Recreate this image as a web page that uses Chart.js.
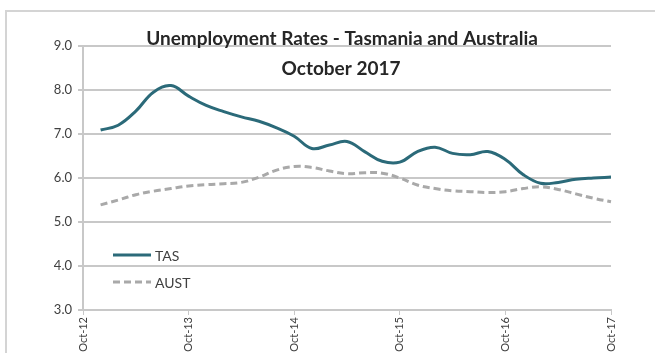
<!DOCTYPE html>
<html>
<head>
<meta charset="utf-8">
<script src="https://cdn.jsdelivr.net/npm/chart.js@4.4.1/dist/chart.umd.min.js"></script>
<style>
  html, body { margin: 0; padding: 0; background: #fff; overflow: hidden; }
  #frame { position: absolute; left: 5px; top: 10px; width: 660px; height: 360px;
           border-top: 2px solid #d4d4d4; border-left: 2px solid #d4d4d4; }
  #wrap { position: absolute; left: 0; top: 0; width: 655px; height: 380px; }
</style>
</head>
<body>
<div id="frame"></div>
<div id="wrap"><canvas id="unempChart"></canvas></div>
<script>
// bi-monthly points, Oct-12 .. Oct-17
var months = ['Oct-12', 'Dec-12', 'Feb-13', 'Apr-13', 'Jun-13', 'Aug-13',
              'Oct-13', 'Dec-13', 'Feb-14', 'Apr-14', 'Jun-14', 'Aug-14',
              'Oct-14', 'Dec-14', 'Feb-15', 'Apr-15', 'Jun-15', 'Aug-15',
              'Oct-15', 'Dec-15', 'Feb-16', 'Apr-16', 'Jun-16', 'Aug-16',
              'Oct-16', 'Dec-16', 'Feb-17', 'Apr-17', 'Jun-17', 'Aug-17',
              'Oct-17'];

var tasValues = [null, 7.09, 7.20, 7.52, 7.95, 8.10,
                 7.86, 7.65, 7.51, 7.39, 7.29, 7.14,
                 6.95, 6.67, 6.75, 6.83, 6.60, 6.38,
                 6.36, 6.60, 6.70, 6.56, 6.53, 6.60,
                 6.42, 6.08, 5.88, 5.90, 5.97, 6.00,
                 6.02];

var austValues = [null, 5.39, 5.50, 5.62, 5.70, 5.76,
                  5.82, 5.85, 5.87, 5.90, 6.02, 6.18,
                  6.26, 6.24, 6.16, 6.10, 6.12, 6.11,
                  6.00, 5.84, 5.76, 5.71, 5.69, 5.67,
                  5.69, 5.76, 5.80, 5.74, 5.64, 5.54,
                  5.46];

var yTicks = [3, 4, 5, 6, 7, 8, 9];

var titleLines = ['Unemployment Rates - Tasmania and Australia', 'October 2017'];

var tasColor = '#2b6a79';
var austColor = '#a9a9a9';
var textColor = '#404040';
var gridColor = '#c8c8c8';

// title and legend sit inside the plot in the original, so draw them by hand
var overlayText = {
    id: 'overlayText',
    afterDatasetsDraw: function(chart) {
        var ctx = chart.ctx;
        ctx.save();
        ctx.fillStyle = '#262626';
        ctx.font = 'bold 19px Lato';
        ctx.textAlign = 'center';
        ctx.textBaseline = 'alphabetic';
        ctx.fillText(titleLines[0], 342, 45);
        ctx.fillText(titleLines[1], 341, 75);

        ctx.font = '14px Lato';
        ctx.textAlign = 'left';
        ctx.textBaseline = 'middle';
        var rows = [255, 282];
        chart.data.datasets.forEach(function(ds, i) {
            var y = rows[i];
            ctx.beginPath();
            ctx.strokeStyle = ds.borderColor;
            ctx.lineWidth = ds.borderWidth;
            ctx.setLineDash(ds.borderDash || []);
            ctx.moveTo(113, y);
            ctx.lineTo(151, y);
            ctx.stroke();
            ctx.setLineDash([]);
            ctx.fillStyle = textColor;
            ctx.fillText(ds.label, 155, y + 1);
        });
        ctx.restore();
    }
};

const ctx = document.getElementById('unempChart').getContext('2d');
const unempChart = new Chart(ctx, {
    type: 'line',
    data: {
        labels: months,
        datasets: [{
            label: 'TAS',
            data: tasValues,
            borderColor: tasColor,
            borderWidth: 3,
            pointRadius: 0,
            tension: 0.4,
            fill: false
        }, {
            label: 'AUST',
            data: austValues,
            borderColor: austColor,
            borderWidth: 3,
            borderDash: [7, 4],
            pointRadius: 0,
            tension: 0.4,
            fill: false
        }]
    },
    options: {
        responsive: true,
        maintainAspectRatio: false,
        animation: false,
        layout: { padding: { left: 0, right: 44, top: 46, bottom: 0 } },
        plugins: {
            legend: { display: false },
            tooltip: { enabled: false }
        },
        scales: {
            x: {
                offset: false,
                afterFit: function(scale) { scale.height = 70; },
                border: { color: gridColor, width: 2 },
                grid: {
                    drawOnChartArea: false,
                    tickLength: 5,
                    tickColor: function(c) {
                        return c.index % 6 === 0 ? gridColor : 'transparent';
                    }
                },
                ticks: {
                    autoSkip: false,
                    maxRotation: 90,
                    minRotation: 90,
                    padding: 2,
                    color: textColor,
                    font: { family: 'Lato', size: 11 },
                    callback: function(v, i) {
                        return i % 6 === 0 ? months[i] : '';
                    }
                }
            },
            y: {
                min: yTicks[0],
                max: yTicks[yTicks.length - 1],
                afterFit: function(scale) { scale.width = 83; },
                afterBuildTicks: function(scale) {
                    scale.ticks = yTicks.map(function(v) { return { value: v }; });
                },
                border: { color: gridColor, width: 2 },
                grid: { color: gridColor, lineWidth: 2, tickLength: 5 },
                ticks: {
                    padding: 6,
                    color: textColor,
                    font: { family: 'Lato', size: 13 },
                    callback: function(v) { return v.toFixed(1); }
                }
            }
        }
    },
    plugins: [overlayText]
});
</script>
</body>
</html>
